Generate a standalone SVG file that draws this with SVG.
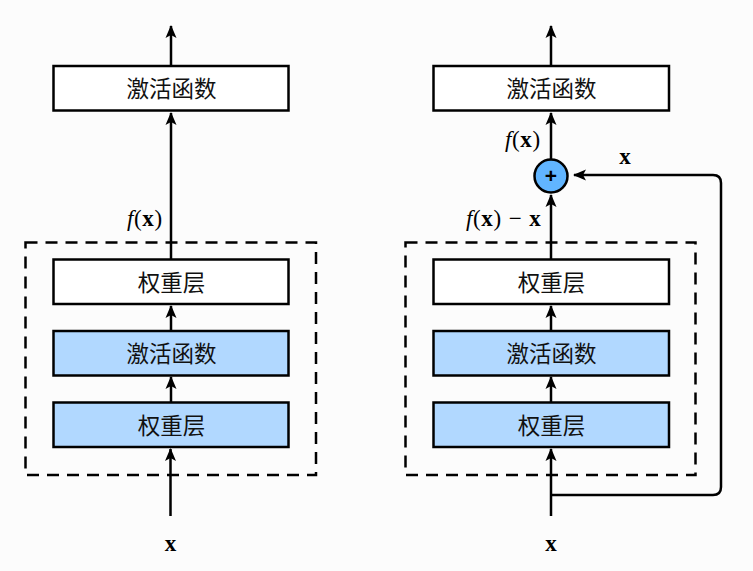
<svg xmlns="http://www.w3.org/2000/svg" width="753" height="571" viewBox="0 0 753 571">
<style>
.b{stroke:#000;stroke-width:2.500}
.w{fill:#fff}.c{fill:#b1d8ff}
.l{fill:none;stroke:#000;stroke-width:2.500}
.d{fill:none;stroke:#000;stroke-width:2.500;stroke-dasharray:12 8}
.t{font-family:"Noto Sans CJK SC","Noto Sans CJK JP",sans-serif;font-size:22.500px;text-anchor:middle;fill:#111}
.m{font-family:"Liberation Serif",serif;font-size:23px;fill:#000}
.e{letter-spacing:.6px}
.x{font-weight:bold}.f{font-style:italic}
</style>
<defs><marker id="a" markerUnits="userSpaceOnUse" markerWidth="16" markerHeight="16" refX="12" refY="5.500" orient="auto" overflow="visible"><path d="M0 0L13 5.500L0 11L3 5.500Z" fill="#000"/></marker></defs>
<rect width="753" height="571" fill="#fcfcfc"/>
<g id="frames">
<rect class="d" x="25.500" y="242.500" width="290.500" height="232.500"/>
<rect class="d" x="405.500" y="242.500" width="290" height="232.500"/>
</g>
<g id="connectors">
<path class="l" marker-end="url(#a)" d="M171 66V26"/>
<path class="l" marker-end="url(#a)" d="M171 259V113"/>
<path class="l" marker-end="url(#a)" d="M171 331V306"/>
<path class="l" marker-end="url(#a)" d="M171 402V377"/>
<path class="l" marker-end="url(#a)" d="M170.500 516V449"/>
<path class="l" marker-end="url(#a)" d="M551 66V26"/>
<path class="l" marker-end="url(#a)" d="M551 159V113"/>
<path class="l" marker-end="url(#a)" d="M551 259V195"/>
<path class="l" marker-end="url(#a)" d="M551 331V306"/>
<path class="l" marker-end="url(#a)" d="M551 402V377"/>
<path class="l" marker-end="url(#a)" d="M551 516V449"/>
<path class="l" marker-end="url(#a)" d="M551 495H713Q721 495 721 487V183Q721 175 713 175H574"/>
</g>
<g id="left-act-top"><rect class="b w" x="53.500" y="66" width="235" height="44.500"/><text class="t" x="171.500" y="97">激活函数</text></g>
<g id="left-weight-top"><rect class="b w" x="53.500" y="259.500" width="235" height="44.500"/><text class="t" x="171.500" y="290.500">权重层</text></g>
<g id="left-act"><rect class="b c" x="53.500" y="331" width="235" height="44.500"/><text class="t" x="171.500" y="362">激活函数</text></g>
<g id="left-weight"><rect class="b c" x="53.500" y="402.500" width="235" height="44.500"/><text class="t" x="171.500" y="433.500">权重层</text></g>
<g id="right-act-top"><rect class="b w" x="433.500" y="66" width="235.500" height="44.500"/><text class="t" x="551.500" y="97">激活函数</text></g>
<g id="right-weight-top"><rect class="b w" x="433.500" y="259.500" width="235.500" height="44.500"/><text class="t" x="551.500" y="290.500">权重层</text></g>
<g id="right-act"><rect class="b c" x="433.500" y="331" width="235.500" height="44.500"/><text class="t" x="551.500" y="362">激活函数</text></g>
<g id="right-weight"><rect class="b c" x="433.500" y="402.500" width="235.500" height="44.500"/><text class="t" x="551.500" y="433.500">权重层</text></g>
<g id="plus"><circle cx="551" cy="176" r="16.500" fill="#61b5ff" stroke="#000" stroke-width="2.500"/><text x="551" y="182.500" text-anchor="middle" font-family="Liberation Sans,sans-serif" font-size="21" font-weight="bold">+</text></g>
<g id="labels">
<text class="m e" x="127" y="226"><tspan class="f">f</tspan>(<tspan class="x">x</tspan>)</text>
<text class="m e" x="505" y="147"><tspan class="f">f</tspan>(<tspan class="x">x</tspan>)</text>
<text class="m e" x="466" y="226"><tspan class="f">f</tspan>(<tspan class="x">x</tspan>)<tspan dx="7">−</tspan><tspan class="x" dx="7">x</tspan></text>
<text class="m x" x="625" y="164" text-anchor="middle">x</text>
<text class="m x" x="170.500" y="551" text-anchor="middle">x</text>
<text class="m x" x="551" y="551" text-anchor="middle">x</text>
</g>
</svg>
